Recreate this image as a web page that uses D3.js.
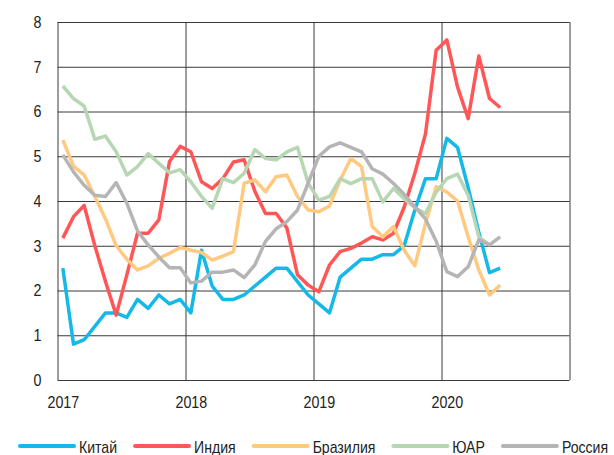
<!DOCTYPE html>
<html>
<head>
<meta charset="utf-8">
<script src="https://cdn.jsdelivr.net/npm/d3@7"></script>
<style>
  body { margin: 0; background: #fff; }
  svg { display: block; }
  .tick text { font-family: "Liberation Sans", sans-serif; font-size: 17px; fill: #222; }
  .legend text { font-family: "Liberation Sans", sans-serif; font-size: 16px; fill: #222; }
</style>
</head>
<body>
<svg width="614" height="455"></svg>
<script>
// monthly data, Jan 2017 .. Jun 2020
let yearLabels = ["2017", "2018", "2019", "2020"]
let names = ["Китай", "Индия", "Бразилия", "ЮАР", "Россия"]
let colors = ["#14b9e8", "#ff5757", "#ffc980", "#b6d6b4", "#b5b5b5"]

let china = [2.5,0.8,0.9,1.2,1.5,1.5,1.4,1.8,1.6,1.9,1.7,1.8,1.5,2.9,2.1,1.8,1.8,1.9,2.1,2.3,2.5,2.5,2.2,1.9,1.7,1.5,2.3,2.5,2.7,2.7,2.8,2.8,3.0,3.8,4.5,4.5,5.4,5.2,4.3,3.3,2.4,2.5]
let india = [3.17,3.65,3.9,3.0,2.2,1.45,2.35,3.28,3.28,3.58,4.88,5.22,5.1,4.43,4.28,4.5,4.87,4.92,4.22,3.72,3.72,3.4,2.35,2.12,1.97,2.57,2.87,2.94,3.06,3.2,3.13,3.28,3.86,4.62,5.5,7.37,7.6,6.55,5.84,7.24,6.29,6.09]
let brazil = [5.36,4.78,4.58,4.1,3.6,3.0,2.7,2.46,2.55,2.72,2.83,2.96,2.9,2.85,2.68,2.77,2.87,4.4,4.47,4.21,4.54,4.58,4.1,3.8,3.76,3.89,4.47,4.95,4.77,3.43,3.2,3.43,2.9,2.55,3.5,4.32,4.2,4.0,3.2,2.46,1.9,2.12]
let southAfrica = [6.57,6.29,6.12,5.38,5.45,5.1,4.58,4.77,5.06,4.84,4.63,4.7,4.43,4.1,3.84,4.5,4.41,4.62,5.15,4.95,4.92,5.1,5.2,4.4,4.02,4.1,4.5,4.39,4.5,4.5,3.98,4.28,4.05,3.85,3.72,4.2,4.5,4.6,4.13,3.2,3.02,null]
let russia = [5.03,4.65,4.35,4.13,4.1,4.41,3.95,3.33,3.02,2.75,2.51,2.51,2.17,2.21,2.41,2.41,2.46,2.29,2.57,3.1,3.38,3.54,3.8,4.4,5.0,5.21,5.3,5.2,5.1,4.72,4.6,4.39,4.15,3.87,3.6,3.1,2.42,2.31,2.53,3.13,3.02,3.2]

let series = [china, india, brazil, southAfrica, russia]

let svg = d3.select("svg")
let plotLeft = 57.5, plotRight = 569.5, plotTop = 22, plotBottom = 380
let squeeze = 0.84 // the original font is narrower than anything installed

let x = d3.scaleLinear().domain([0, 48]).range([plotLeft, plotRight])
let y = d3.scaleLinear().domain([0, 8]).range([plotBottom, plotTop])

// horizontal grid + y labels
svg.append("g")
  .attr("transform", `translate(${plotLeft},0)`)
  .call(d3.axisLeft(y).ticks(8).tickSize(-(plotRight - plotLeft)).tickPadding(16))
  .call(g => g.select(".domain").remove())
  .call(g => g.selectAll(".tick line").attr("stroke", "#3a3a3a"))
  .call(g => g.selectAll(".tick text")
    .attr("x", -16 / squeeze)
    .attr("transform", `scale(${squeeze},1)`))

// vertical grid at year boundaries
svg.append("g")
  .attr("transform", `translate(0,${plotBottom})`)
  .call(d3.axisBottom(x).tickValues([0, 12, 24, 36, 48]).tickSize(-(plotBottom - plotTop)).tickFormat(""))
  .call(g => g.select(".domain").remove())
  .call(g => g.selectAll(".tick line").attr("stroke", "#3a3a3a"))

// year labels under the first month of each year
svg.append("g")
  .attr("transform", `translate(0,${plotBottom})`)
  .call(d3.axisBottom(x).tickValues(yearLabels.map((d, i) => i * 12 + 0.5))
    .tickFormat((d, i) => yearLabels[i]).tickSize(0).tickPadding(16))
  .call(g => g.select(".domain").remove())
  .call(g => g.selectAll(".tick text").attr("transform", `scale(${squeeze},1)`))

let line = d3.line()
  .defined(d => d != null)
  .x((d, i) => x(i + 0.5))
  .y(d => y(d))

series.forEach((s, k) => {
  svg.append("path")
    .datum(s)
    .attr("d", line)
    .attr("fill", "none")
    .attr("stroke", colors[k])
    .attr("stroke-width", 3.5)
    .attr("stroke-linejoin", "round")
})

// legend
let legend = svg.append("g").attr("class", "legend")
let lx = 20, ly = 446, legendSqueeze = 0.88
names.forEach((n, k) => {
  legend.append("line")
    .attr("x1", lx).attr("x2", lx + 54)
    .attr("y1", ly).attr("y2", ly)
    .attr("stroke", colors[k])
    .attr("stroke-width", 4)
    .attr("stroke-linecap", "round")
  let t = legend.append("text")
    .attr("transform", `translate(${lx + 59},${ly + 7}) scale(${legendSqueeze},1)`)
    .text(n)
  lx += 59 + t.node().getComputedTextLength() * legendSqueeze + 18
})
</script>
</body>
</html>
